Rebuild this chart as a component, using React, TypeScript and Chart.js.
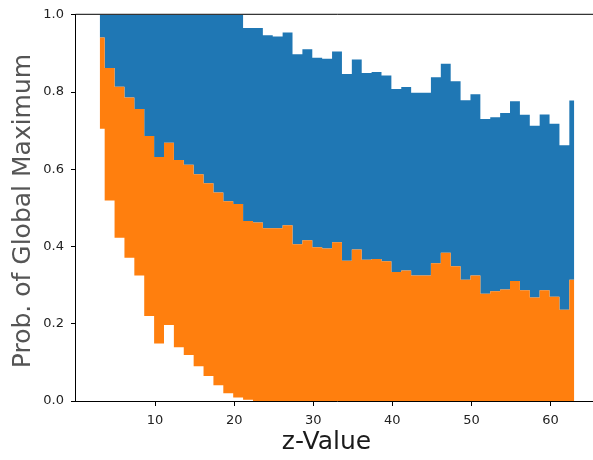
import React, { useEffect, useRef } from "react";
import { Chart, registerables } from "chart.js";

Chart.register(...registerables);

// z-values (x positions of the step points)
const zValues = [
  3, 4.25, 5.5, 6.75, 8, 9.25, 10.5, 11.75, 13, 14.25,
  15.5, 16.75, 18, 19.25, 20.5, 21.75, 23, 24.25, 25.5, 26.75,
  28, 29.25, 30.5, 31.75, 33, 34.25, 35.5, 36.75, 38, 39.25,
  40.5, 41.75, 43, 44.25, 45.5, 46.75, 48, 49.25, 50.5, 51.75,
  53, 54.25, 55.5, 56.75, 58, 59.25, 60.5, 61.75, 63,
];

// lower edge of the orange band
const orangeLower = [
  0.705, 0.519, 0.423, 0.371, 0.325, 0.22, 0.149, 0.197, 0.139, 0.119,
  0.09, 0.065, 0.041, 0.02, 0.009, 0.003, 0, 0, 0, 0,
  0, 0, 0, 0, 0, 0, 0, 0, 0, 0,
  0, 0, 0, 0, 0, 0, 0, 0, 0, 0,
  0, 0, 0, 0, 0, 0, 0, 0, 0,
];

// upper edge of the orange band
const orangeUpper = [
  0.941, 0.862, 0.814, 0.786, 0.756, 0.686, 0.632, 0.669, 0.624, 0.612,
  0.587, 0.564, 0.54, 0.517, 0.51, 0.466, 0.462, 0.447, 0.447, 0.455,
  0.406, 0.416, 0.398, 0.395, 0.411, 0.363, 0.392, 0.366, 0.368, 0.362,
  0.334, 0.338, 0.325, 0.325, 0.357, 0.384, 0.349, 0.314, 0.325, 0.278,
  0.284, 0.289, 0.311, 0.287, 0.268, 0.287, 0.27, 0.236, 0.314,
];

// upper edge of the blue band
const blueUpper = [
  1, 1, 1, 1, 1, 1, 1, 1, 1, 1,
  1, 1, 1, 1, 1, 0.966, 0.966, 0.947, 0.944, 0.954,
  0.898, 0.911, 0.889, 0.886, 0.905, 0.847, 0.884, 0.849, 0.852, 0.843,
  0.808, 0.813, 0.798, 0.798, 0.838, 0.873, 0.828, 0.779, 0.794, 0.73,
  0.735, 0.746, 0.776, 0.741, 0.713, 0.742, 0.718, 0.662, 0.778,
];

const xTicks = [10, 20, 30, 40, 50, 60];
const yTicks = [0, 0.2, 0.4, 0.6, 0.8, 1.0];
const xLabel = "z-Value";
const yLabel = "Prob. of Global Maximum";

const FONT = "'DejaVu Sans', sans-serif";

export default function App() {
  const ref = useRef<HTMLCanvasElement>(null);

  useEffect(() => {
    const canvas = ref.current;
    if (!canvas) return;
    const pts = (ys: number[]) => zValues.map((x, i) => ({ x, y: ys[i] }));

    const framePlugin = {
      id: "frame",
      afterDatasetsDraw(chart: any) {
        const { ctx, chartArea: a } = chart;
        ctx.save();
        ctx.strokeStyle = "#000";
        ctx.lineWidth = 1;
        ctx.beginPath();
        ctx.moveTo(a.right + 2, a.top - 0.5);
        ctx.lineTo(a.left - 0.5, a.top - 0.5);
        ctx.lineTo(a.left - 0.5, a.bottom + 0.5);
        ctx.lineTo(a.right + 2, a.bottom + 0.5);
        ctx.stroke();
        ctx.restore();
      },
      afterDraw(chart: any) {
        const { ctx } = chart;
        ctx.save();
        ctx.fillStyle = "#1a1a1a";
        ctx.font = `25px ${FONT}`;
        ctx.textAlign = "center";
        ctx.textBaseline = "alphabetic";
        ctx.fillText(xLabel, 326.5, 449);
        ctx.translate(29.5, 211);
        ctx.rotate(-Math.PI / 2);
        ctx.fillStyle = "#555555";
        ctx.font = `25px ${FONT}`;
        ctx.fillText(yLabel, 0, 0);
        ctx.restore();
      },
    };

    const chart = new Chart(canvas, {
      type: "line",
      data: {
        datasets: [
          {
            data: pts(orangeLower),
            stepped: "middle",
            borderWidth: 0,
            borderColor: "rgba(0,0,0,0)",
            pointRadius: 0,
            fill: false,
          },
          {
            data: pts(orangeUpper),
            stepped: "middle",
            borderWidth: 0,
            borderColor: "rgba(0,0,0,0)",
            backgroundColor: "#ff7f0e",
            pointRadius: 0,
            fill: "-1",
          },
          {
            data: pts(blueUpper),
            stepped: "middle",
            borderWidth: 0,
            borderColor: "rgba(0,0,0,0)",
            backgroundColor: "#1f77b4",
            pointRadius: 0,
            fill: "-1",
          },
        ],
      },
      options: {
        animation: false,
        responsive: false,
        devicePixelRatio: 1,
        layout: { padding: { top: 14, right: 0, left: 0, bottom: 0 } },
        plugins: {
          legend: { display: false },
          tooltip: { enabled: false },
        },
        scales: {
          x: {
            type: "linear",
            min: 0,
            max: 66,
            afterBuildTicks: (s: any) => {
              s.ticks = xTicks.map((v) => ({ value: v }));
            },
            afterFit: (s: any) => {
              s.height = 59;
            },
            border: { display: false },
            grid: {
              display: true,
              drawOnChartArea: false,
              drawTicks: true,
              tickLength: 5,
              tickColor: "#000",
            },
            ticks: {
              font: { family: FONT, size: 13 },
              color: "#222",
              padding: 7,
              maxRotation: 0,
              callback: (v: any) => String(v),
            },
          },
          y: {
            type: "linear",
            min: 0,
            max: 1,
            afterBuildTicks: (s: any) => {
              s.ticks = yTicks.map((v) => ({ value: v }));
            },
            afterFit: (s: any) => {
              s.width = 76;
            },
            border: { display: false },
            grid: {
              display: true,
              drawOnChartArea: false,
              drawTicks: true,
              tickLength: 5,
              tickColor: "#000",
            },
            ticks: {
              font: { family: FONT, size: 13 },
              color: "#222",
              padding: 7,
              callback: (v: any) => Number(v).toFixed(1),
            },
          },
        },
      },
      plugins: [framePlugin],
    });

    return () => chart.destroy();
  }, []);

  return (
    <div
      style={{
        position: "fixed",
        left: 0,
        top: 0,
        width: 593,
        height: 460,
        overflow: "hidden",
        background: "#fff",
      }}
    >
      <canvas ref={ref} width={598} height={460} style={{ display: "block", width: 598, height: 460 }} />
    </div>
  );
}
